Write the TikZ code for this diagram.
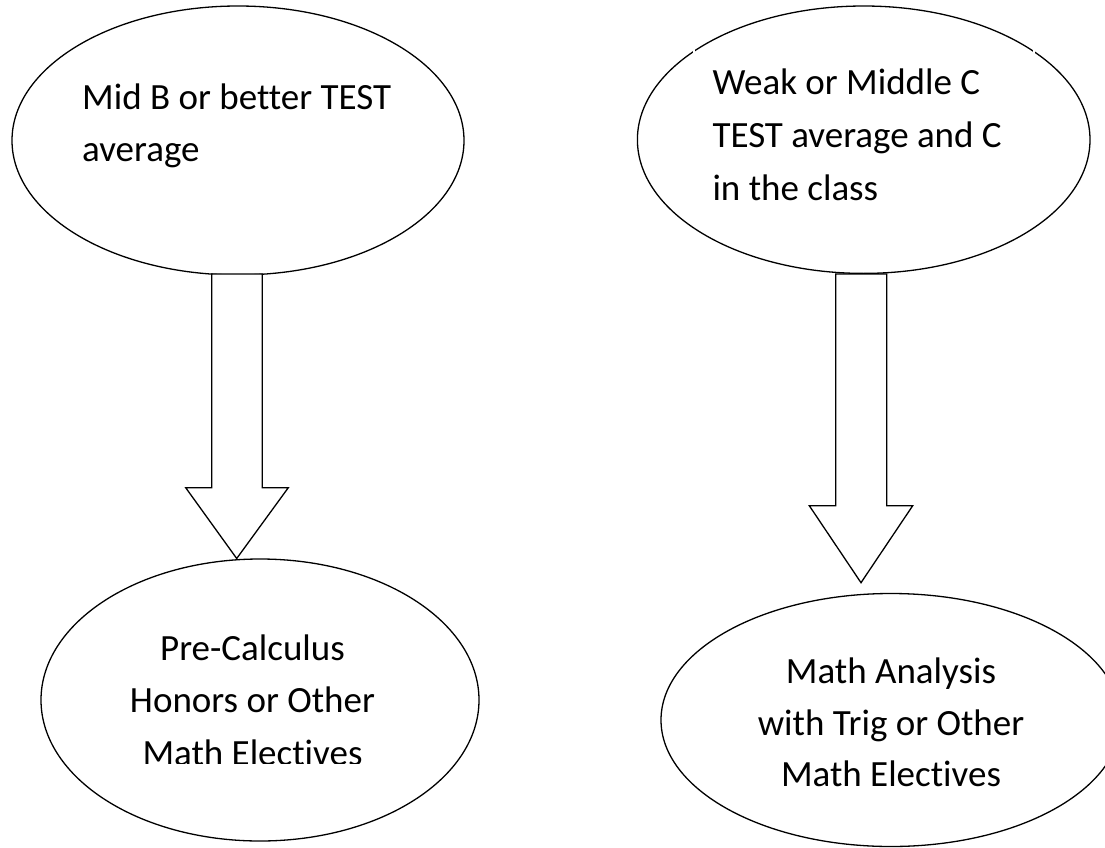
\documentclass[tikz,border=0pt]{standalone}
\usepackage{fontspec}
\setmainfont[Ligatures={NoCommon}]{Carlito}
\usetikzlibrary{shapes.geometric}
\begin{document}
\begin{tikzpicture}[x=1pt,y=-1pt,
  oval/.style={draw,line width=1.3pt,ellipse,inner sep=0pt,outer sep=0pt},
  blk/.style={draw,line width=1.3pt,fill=white,line join=miter},
  txt/.style={font=\fontsize{37}{52}\selectfont,inner sep=0pt}]
\useasboundingbox (0,0) rectangle (1105,848);
\clip (0,0) rectangle (1105,848);
% ovals
\node[oval,minimum width=452pt,minimum height=269pt] (e1) at (238,140.5) {};
\node[oval,minimum width=452.6pt,minimum height=267.4pt] (e2) at (863.7,139.7) {};
\node[oval,minimum width=438pt,minimum height=282pt] (e3) at (260,700) {};
\node[oval,minimum width=460pt,minimum height=253pt] (e4) at (891,720) {};
% small gaps in the top right oval
\fill[white] (693.3,47.5) rectangle (695.3,54);
\fill[white] (1033.3,47.5) rectangle (1035.3,54);
% block arrows
\draw[blk] (211.7,274) -- (211.7,487.7) -- (185.7,487.7) -- (236.7,558.5)
  -- (288.3,487.7) -- (262.3,487.7) -- (262.3,274) -- cycle;
\draw[blk] (835.7,274) -- (835.7,505.7) -- (809.3,505.7) -- (861,582.7)
  -- (912.7,505.7) -- (886.7,505.7) -- (886.7,274) -- cycle;
% texts
\node[txt,anchor=base west] (t1a) at (82,110) {Mid B or better TEST};
\node[txt,anchor=base west] (t1b) at (82,161.7) {average};
\node[txt,anchor=base west] (t2a) at (712.3,95) {Weak or Middle C};
\node[txt,anchor=base west] (t2b) at (712.3,147.5) {TEST average and C};
\node[txt,anchor=base west] (t2c) at (712.3,200) {in the class};
\node[txt,anchor=base] (t3a) at (252.5,660) {Pre-Calculus};
\node[txt,anchor=base] (t3b) at (252.5,712.7) {Honors or Other};
\begin{scope}
\clip (0,0) rectangle (1105,763);
\node[txt,anchor=base] (t3c) at (252.5,765) {Math Electives};
\end{scope}
\node[txt,anchor=base] (t4a) at (891,683) {Math Analysis};
\node[txt,anchor=base] (t4b) at (891,735) {with Trig or Other};
\node[txt,anchor=base] (t4c) at (891,786.7) {Math Electives};
\end{tikzpicture}
\end{document}
